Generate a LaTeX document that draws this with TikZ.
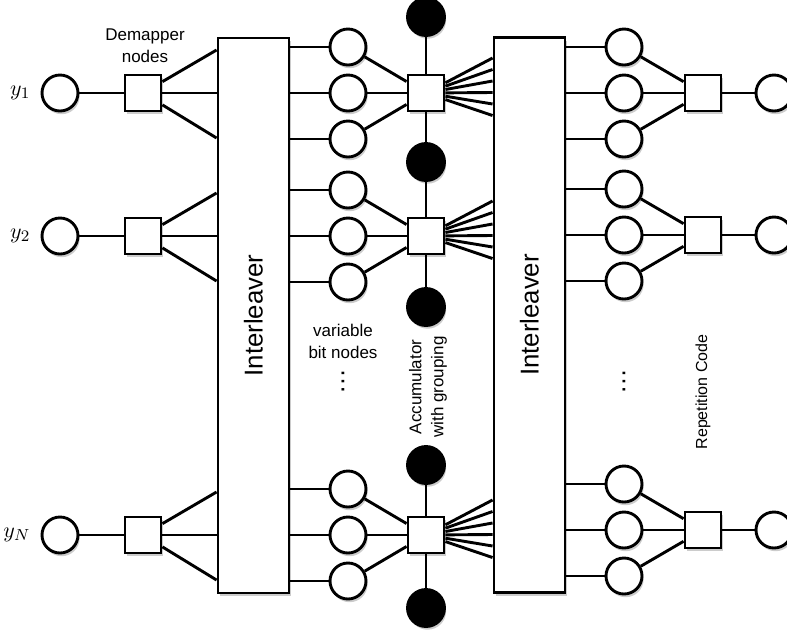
\documentclass[tikz,border=0pt]{standalone}
\usepackage{fontspec}
\newfontfamily\labelfont{Liberation Sans}
\usepackage{tikz}
\usetikzlibrary{positioning,shadows}

\begin{document}
\begin{tikzpicture}[x=0.5pt,y=-0.5pt,line width=1.45pt,
  soft/.style={drop shadow={shadow xshift=0.8pt,shadow yshift=-1.6pt,opacity=0.4}},
  obs/.style={circle,draw,fill=white,minimum size=18pt,inner sep=0pt,soft},
  fnode/.style={rectangle,draw,fill=white,minimum size=18pt,inner sep=0pt,soft},
  state/.style={circle,draw,fill=black,minimum size=18.5pt,inner sep=0pt,soft},
  ilbox/.style={rectangle,draw,fill=white,minimum width=35.5pt,minimum height=277.5pt,soft},
  txt/.style={font=\labelfont\fontsize{8.5}{11}\selectfont,align=center},
  iltxt/.style={font=\labelfont\fontsize{12.9}{15}\selectfont,rotate=90}]
\useasboundingbox (0,0) rectangle (787,634);
% interleavers
\node[ilbox] (il1) at (253.5,315.5) {};
\node[ilbox] (il2) at (529.5,315) {};
\node[iltxt] (il1lab) at (il1) {Interleaver};
\node[iltxt] (il2lab) at (il2) {Interleaver};
% demapper side, bit nodes, accumulator
\foreach \g/\c/\lab in {1/93/1,2/236/2,3/535/N}{
  \node[obs,label={[font=\fontsize{11}{13}\selectfont,label distance=1pt]left:$y_{\lab}$}] (y\g) at (60,\c) {};
  \node[fnode] (dm\g) at (143,\c) {};
  \foreach \i/\dy in {1/-46,2/0,3/46}{
    \pgfmathsetmacro{\yy}{\c+\dy}
    \node[obs] (v\g\i) at (348,\yy) {};}
  \node[fnode] (acc\g) at (426,\c) {};
}
\foreach \k/\yy in {1/17,2/162,3/307,4/465,5/608}{\node[state] (s\k) at (426,\yy) {};}
% repetition code side
\foreach \g/\c in {1/93,2/235,3/530}{
  \foreach \i/\dy in {1/-46,2/0,3/46}{
    \pgfmathsetmacro{\yy}{\c+\dy}
    \node[obs] (w\g\i) at (624,\yy) {};}
  \node[fnode] (rep\g) at (703,\c) {};
  \node[obs] (u\g) at (774,\c) {};
}
% edges
\foreach \g/\c in {1/93,2/236,3/535}{
  \draw (y\g) -- (dm\g);
  \foreach \dy in {-43,0,45}{
    \pgfmathsetmacro{\yy}{\c+\dy}
    \draw (dm\g) -- (il1.west |- 0,\yy);}
  \foreach \i in {1,2,3}{
    \draw (il1.east |- v\g\i) -- (v\g\i);
    \draw (v\g\i) -- (acc\g);}
  \foreach \k in {0,...,5}{
    \pgfmathsetmacro{\yy}{\c-35+11.5*\k}
    \draw (acc\g) -- (il2.west |- 0,\yy);}
}
\draw (s1) -- (acc1) -- (s2) -- (acc2) -- (s3);
\draw (s4) -- (acc3) -- (s5);
\foreach \g in {1,2,3}{
  \foreach \i in {1,2,3}{
    \draw (il2.east |- w\g\i) -- (w\g\i);
    \draw (w\g\i) -- (rep\g);}
  \draw (rep\g) -- (u\g);
}
% labels
\node[txt] (dmlab) at (145,46) {Demapper\\nodes};
\node[txt] (vblab) at (343,341) {variable\\bit nodes};
\node[iltxt,inner sep=0pt] (vd1) at (343,382) {…};
\node[iltxt,inner sep=0pt] (vd2) at (624,382) {…};
\node[txt,rotate=90] (acclab) at (428,387) {Accumulator\\with grouping};
\node[txt,rotate=90,font=\labelfont\fontsize{8}{10}\selectfont] (replab) at (703,392) {Repetition Code};
\end{tikzpicture}
\end{document}
